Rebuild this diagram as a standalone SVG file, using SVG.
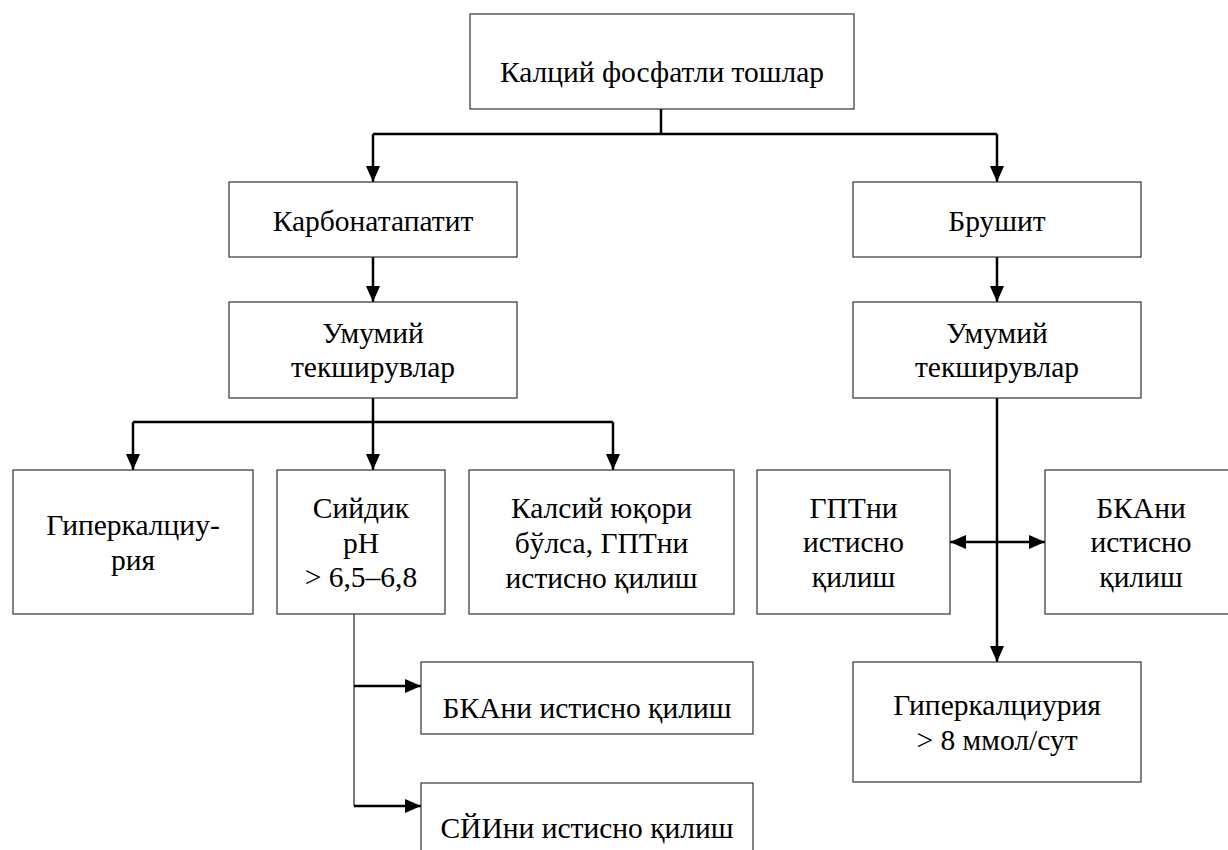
<svg xmlns="http://www.w3.org/2000/svg" width="1228" height="850" viewBox="0 0 1228 850">
<style>
.box{fill:#fff;stroke:#333;stroke-width:1.2}
.t{font-family:'Liberation Serif','DejaVu Serif',serif;font-size:29.5px;fill:#000;text-anchor:middle}
.ln{fill:none;stroke:#000;stroke-width:2.5}
.thin{fill:none;stroke:#222;stroke-width:1.2}
</style>
<defs>
<marker id="ah" viewBox="0 0 16 14" refX="16" refY="7" markerWidth="16" markerHeight="14" markerUnits="userSpaceOnUse" orient="auto-start-reverse">
<path d="M0,0 L16,7 L0,14 Z" fill="#000"/>
</marker>
</defs>
<rect width="1228" height="850" fill="#fff"/>
<g id="connectors">
<path class="ln" d="M661,109 V134"/>
<path class="ln" d="M373,134 H997"/>
<path class="ln" d="M373,134 V182" marker-end="url(#ah)"/>
<path class="ln" d="M997,134 V182" marker-end="url(#ah)"/>
<path class="ln" d="M373,257 V302" marker-end="url(#ah)"/>
<path class="ln" d="M997,257 V302" marker-end="url(#ah)"/>
<path class="ln" d="M373,398 V470" marker-end="url(#ah)"/>
<path class="ln" d="M133,422 H613"/>
<path class="ln" d="M133,422 V470" marker-end="url(#ah)"/>
<path class="ln" d="M613,422 V470" marker-end="url(#ah)"/>
<path class="ln" d="M997,398 V662" marker-end="url(#ah)"/>
<path class="ln" d="M950,542 H1045" marker-start="url(#ah)" marker-end="url(#ah)"/>
<path class="thin" d="M354,614 V806"/>
<path class="ln" d="M354,686 H421" marker-end="url(#ah)"/>
<path class="ln" d="M354,806 H421" marker-end="url(#ah)"/>
</g>
<g id="n-top"><rect class="box" x="470" y="14" width="384" height="95"/><text class="t" x="662" y="82">Калций фосфатли тошлар</text></g>
<g id="n-karb"><rect class="box" x="229" y="182" width="288" height="75"/><text class="t" x="373" y="231">Карбонатапатит</text></g>
<g id="n-brush"><rect class="box" x="853" y="182" width="288" height="75"/><text class="t" x="997" y="231">Брушит</text></g>
<g id="n-umum-l"><rect class="box" x="229" y="302" width="288" height="96"/><text class="t" x="373" y="343">Умумий</text><text class="t" x="373" y="377">текширувлар</text></g>
<g id="n-umum-r"><rect class="box" x="853" y="302" width="288" height="96"/><text class="t" x="997" y="343">Умумий</text><text class="t" x="997" y="377">текширувлар</text></g>
<g id="n-giper-l"><rect class="box" x="13" y="470" width="240" height="144"/><text class="t" x="133" y="535">Гиперкалциу-</text><text class="t" x="133" y="570">рия</text></g>
<g id="n-siydik"><rect class="box" x="277" y="470" width="168" height="144"/><text class="t" x="361" y="518">Сийдик</text><text class="t" x="361" y="553">pH</text><text class="t" x="361" y="587">&gt; 6,5–6,8</text></g>
<g id="n-kalsiy"><rect class="box" x="469" y="470" width="265" height="144"/><text class="t" x="601.5" y="518">Калсий юқори</text><text class="t" x="601.5" y="553">бўлса, ГПТни</text><text class="t" x="601.5" y="588">истисно қилиш</text></g>
<g id="n-gpt"><rect class="box" x="757" y="470" width="193" height="144"/><text class="t" x="853.5" y="518">ГПТни</text><text class="t" x="853.5" y="552">истисно</text><text class="t" x="853.5" y="587">қилиш</text></g>
<g id="n-bka-r"><rect class="box" x="1045" y="470" width="193" height="144"/><text class="t" x="1141" y="518">БКАни</text><text class="t" x="1141" y="552">истисно</text><text class="t" x="1141" y="587">қилиш</text></g>
<g id="n-giper-r"><rect class="box" x="853" y="662" width="288" height="120"/><text class="t" x="997" y="715">Гиперкалциурия</text><text class="t" x="997" y="750">&gt; 8 ммол/сут</text></g>
<g id="n-bka-l"><rect class="box" x="421" y="662" width="332" height="72"/><text class="t" x="587" y="718">БКАни истисно қилиш</text></g>
<g id="n-syi"><rect class="box" x="421" y="783" width="332" height="72"/><text class="t" x="587" y="838">СЙИни истисно қилиш</text></g>
</svg>
